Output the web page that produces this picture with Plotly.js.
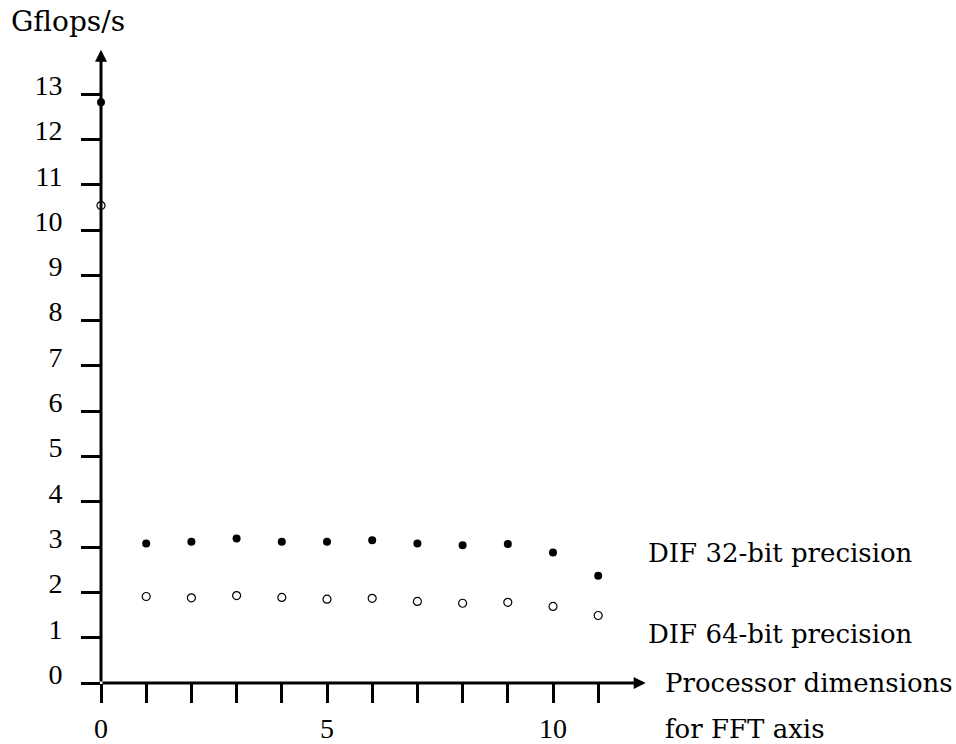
<!DOCTYPE html>
<html>
<head>
<meta charset="utf-8">
<script src="https://cdn.plot.ly/plotly-3.0.1.min.js"></script>
<style>
  html, body { margin: 0; padding: 0; background: #fff; }
  #chart { width: 956px; height: 744px; }
</style>
</head>
<body>
<div id="chart"></div>
<script>
// Processor dimensions used for the FFT axis
const dims = [0, 1, 2, 3, 4, 5, 6, 7, 8, 9, 10, 11];
// Measured throughput, Gflops/s
const dif32 = [12.82, 3.08, 3.12, 3.19, 3.12, 3.12, 3.15, 3.08, 3.04, 3.07, 2.88, 2.37];
const dif64 = [10.54, 1.91, 1.88, 1.93, 1.89, 1.85, 1.87, 1.80, 1.76, 1.78, 1.69, 1.49];
// Axis ticks and labels
const xTicks = [0, 1, 2, 3, 4, 5, 6, 7, 8, 9, 10, 11];
const xTickText = ['0', '', '', '', '', '5', '', '', '', '', '10', ''];
const yTicks = [0, 1, 2, 3, 4, 5, 6, 7, 8, 9, 10, 11, 12, 13];
const seriesNames = ['DIF 32-bit precision', 'DIF 64-bit precision'];

const TICK_FONT = { family: '"Liberation Serif", "DejaVu Serif", serif', size: 28, color: '#000' };
const TEXT_FONT = { family: '"DejaVu Serif", "Liberation Serif", serif', size: 26, color: '#000' };

const traces = [
  {
    x: dims, y: dif32, name: seriesNames[0], type: 'scatter', mode: 'markers',
    marker: { symbol: 'circle', size: 8, color: '#000' },
    cliponaxis: false, hoverinfo: 'x+y'
  },
  {
    x: dims, y: dif64, name: seriesNames[1], type: 'scatter', mode: 'markers',
    marker: { symbol: 'circle', size: 8, color: '#fff', line: { color: '#000', width: 1.2 } },
    cliponaxis: false, hoverinfo: 'x+y'
  }
];

const plotLeft = 101, plotW = 556, plotTop = 40, plotH = 643;
const px = v => (v - plotLeft) / plotW;            // page x -> paper x
const py = v => (plotTop + plotH - v) / plotH;     // page y -> paper y

function label(text, x, y, font) {
  return { xref: 'paper', yref: 'paper', x: px(x), y: py(y), xanchor: 'left', yanchor: 'middle',
           text: text, showarrow: false, font: font || TEXT_FONT };
}

const layout = {
  width: 956, height: 744,
  margin: { l: plotLeft, r: 956 - plotLeft - plotW, t: plotTop, b: 744 - plotTop - plotH, pad: 0 },
  paper_bgcolor: '#fff', plot_bgcolor: '#fff',
  showlegend: false,
  font: TICK_FONT,
  xaxis: {
    range: [0, plotW / 45.2], showgrid: false, zeroline: false, showline: false,
    tickmode: 'array', tickvals: xTicks, ticktext: xTickText,
    ticks: 'outside', ticklen: 19, tickwidth: 3, tickcolor: '#000',
    ticklabelstandoff: 1, tickfont: TICK_FONT, fixedrange: true
  },
  yaxis: {
    range: [0, plotH / 45.3], showgrid: false, zeroline: false, showline: false,
    tickmode: 'array', tickvals: yTicks, ticktext: yTicks.map(String),
    ticks: 'outside', ticklen: 19, tickwidth: 3, tickcolor: '#000',
    ticklabelstandoff: 13, ticklabelshift: -9, tickfont: TICK_FONT, fixedrange: true
  },
  annotations: [
    // axis lines drawn as arrows
    { xref: 'x', yref: 'y', axref: 'x', ayref: 'y', x: 12.05, y: 0, ax: 0, ay: 0,
      showarrow: true, arrowhead: 2, arrowsize: 0.8, arrowwidth: 3, arrowcolor: '#000', text: '' },
    { xref: 'x', yref: 'y', axref: 'x', ayref: 'y', x: 0, y: 13.98, ax: 0, ay: 0,
      showarrow: true, arrowhead: 2, arrowsize: 0.8, arrowwidth: 3, arrowcolor: '#000', text: '' },
    // series labels
    label(seriesNames[0], 646, 553),
    label(seriesNames[1], 646, 634),
    // axis titles
    label('Processor dimensions', 663, 683),
    label('for FFT axis', 663, 729),
    label('Gflops/s', 9, 21, Object.assign({}, TEXT_FONT, { size: 28 }))
  ]
};

Plotly.newPlot('chart', traces, layout, { staticPlot: true, displayModeBar: false });
</script>
</body>
</html>
